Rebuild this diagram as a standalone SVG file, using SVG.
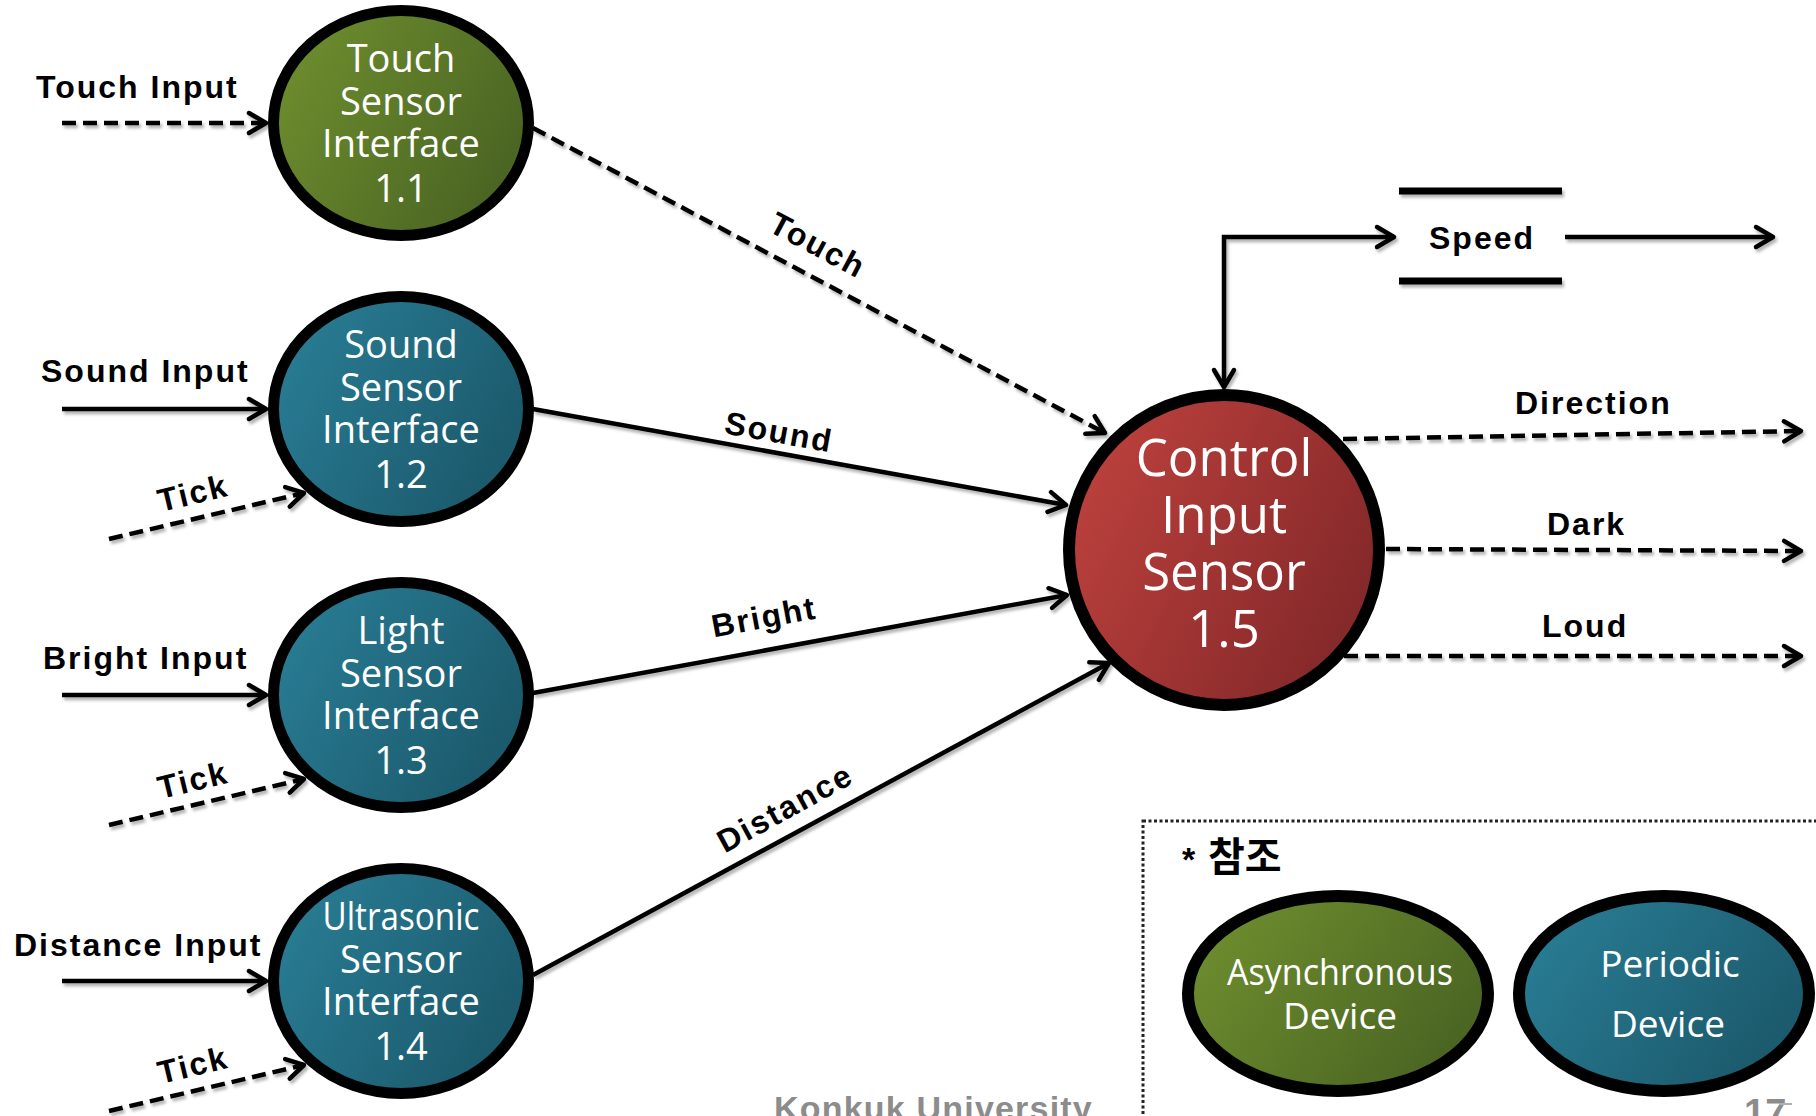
<svg xmlns="http://www.w3.org/2000/svg" width="1816" height="1116" viewBox="0 0 1816 1116">
  <defs>
    <linearGradient id="gGreen" x1="0" y1="0" x2="1" y2="0.5">
      <stop offset="0" stop-color="#72922f"/>
      <stop offset="1" stop-color="#4b6623"/>
    </linearGradient>
    <linearGradient id="gBlue" x1="0" y1="0" x2="1" y2="0.5">
      <stop offset="0" stop-color="#2a8199"/>
      <stop offset="1" stop-color="#1c5a6d"/>
    </linearGradient>
    <linearGradient id="gRed" x1="0" y1="0" x2="1" y2="0.5">
      <stop offset="0" stop-color="#c3443f"/>
      <stop offset="1" stop-color="#86292a"/>
    </linearGradient>
    <!-- user-space region so that perfectly horizontal lines keep their shadow -->
    <filter id="shadow" filterUnits="userSpaceOnUse" x="0" y="0" width="1816" height="1116">
      <feDropShadow dx="2" dy="3" stdDeviation="1.8" flood-color="#000" flood-opacity="0.3"/>
    </filter>
    <marker id="arrow" markerUnits="userSpaceOnUse" viewBox="-22 -14 26 28" refX="0" refY="0" markerWidth="26" markerHeight="28" orient="auto-start-reverse">
      <path d="M-17,-10 L0,0 L-17,10" fill="none" stroke="#000" stroke-width="4.5" stroke-linecap="round" stroke-linejoin="round" stroke-dasharray="none"/>
    </marker>
    <style>
      .flow { fill: none; stroke: #000; stroke-width: 4.5; marker-end: url(#arrow); filter: url(#shadow); }
      .dash { stroke-dasharray: 14 7; }
      .ring { stroke: #000; stroke-width: 11; }
      .lbl { font-family: "Liberation Sans", Arial, sans-serif; font-weight: bold; font-size: 32px; letter-spacing: 2px; fill: #000; }
      .ntext { font-family: "Open Sans", "Noto Sans", sans-serif; font-size: 38px; fill: #fff; text-anchor: middle; }
      .big { font-size: 51px; }
      .leg { font-size: 37px; }
      .foot { font-family: "Liberation Sans", Arial, sans-serif; font-weight: bold; fill: #8c8c8c; }
    </style>
  </defs>

  <rect width="1816" height="1116" fill="#fff"/>

  <!-- connectors -->
  <g id="connectors">
    <!-- external inputs -->
    <path class="flow dash" d="M62,123 H266"/>
    <path class="flow" d="M62,409 H266"/>
    <path class="flow" d="M62,695 H266"/>
    <path class="flow" d="M62,981 H266"/>
    <!-- tick inputs -->
    <path class="flow dash" d="M109,539 L304,493"/>
    <path class="flow dash" d="M109,825 L304,779"/>
    <path class="flow dash" d="M109,1111 L304,1065"/>
    <!-- sensor interfaces to control -->
    <path class="flow dash" d="M533,128 L1105,433"/>
    <path class="flow" d="M533,409 L1066,505"/>
    <path class="flow" d="M533,693 L1067,595"/>
    <path class="flow" d="M533,975 L1109,663"/>
    <!-- speed store loop -->
    <path class="flow" style="marker-start:url(#arrow)" d="M1394,237 H1224 V387"/>
    <path class="flow" d="M1565,237 H1773"/>
    <!-- outputs -->
    <path class="flow dash" d="M1343,439 L1801,431"/>
    <path class="flow dash" d="M1386,549 L1801,551"/>
    <path class="flow dash" d="M1344,656 L1801,656"/>

    <!-- flow labels -->
    <text class="lbl" x="36" y="98">Touch Input</text>
    <text class="lbl" x="41" y="382">Sound Input</text>
    <text class="lbl" x="43" y="669">Bright Input</text>
    <text class="lbl" x="14" y="956">Distance Input</text>
    <text class="lbl" text-anchor="middle" transform="translate(193,493) rotate(-13.5)" y="11">Tick</text>
    <text class="lbl" text-anchor="middle" transform="translate(193,780) rotate(-13.5)" y="11">Tick</text>
    <text class="lbl" text-anchor="middle" transform="translate(193,1065) rotate(-13.5)" y="11">Tick</text>
    <text class="lbl" text-anchor="middle" transform="translate(818,245) rotate(28)" y="11">Touch</text>
    <text class="lbl" text-anchor="middle" transform="translate(779,432) rotate(10.2)" y="11">Sound</text>
    <text class="lbl" text-anchor="middle" transform="translate(764,617) rotate(-10.5)" y="11">Bright</text>
    <text class="lbl" text-anchor="middle" transform="translate(785,808) rotate(-28.6)" y="11">Distance</text>
    <text class="lbl" x="1515" y="414">Direction</text>
    <text class="lbl" x="1547" y="535">Dark</text>
    <text class="lbl" x="1542" y="637">Loud</text>
  </g>

  <!-- data store: Speed -->
  <g id="store-speed">
    <line x1="1399" y1="191" x2="1562" y2="191" stroke="#000" stroke-width="7" filter="url(#shadow)"/>
    <line x1="1399" y1="281" x2="1562" y2="281" stroke="#000" stroke-width="7" filter="url(#shadow)"/>
    <text class="lbl" x="1429" y="249">Speed</text>
  </g>

  <!-- processes -->
  <g id="node-1-1">
    <ellipse class="ring" cx="401" cy="123" rx="127.5" ry="112.5" fill="url(#gGreen)"/>
    <text class="ntext" x="401" y="72">Touch</text>
    <text class="ntext" x="401" y="115">Sensor</text>
    <text class="ntext" x="401" y="157">Interface</text>
    <text class="ntext" x="401" y="202">1.1</text>
  </g>
  <g id="node-1-2">
    <ellipse class="ring" cx="401" cy="409" rx="127.5" ry="112.5" fill="url(#gBlue)"/>
    <text class="ntext" x="401" y="358">Sound</text>
    <text class="ntext" x="401" y="401">Sensor</text>
    <text class="ntext" x="401" y="443">Interface</text>
    <text class="ntext" x="401" y="488">1.2</text>
  </g>
  <g id="node-1-3">
    <ellipse class="ring" cx="401" cy="695" rx="127.5" ry="112.5" fill="url(#gBlue)"/>
    <text class="ntext" x="401" y="644">Light</text>
    <text class="ntext" x="401" y="687">Sensor</text>
    <text class="ntext" x="401" y="729">Interface</text>
    <text class="ntext" x="401" y="774">1.3</text>
  </g>
  <g id="node-1-4">
    <ellipse class="ring" cx="401" cy="981" rx="127.5" ry="112.5" fill="url(#gBlue)"/>
    <text class="ntext" x="401" y="930" textLength="157" lengthAdjust="spacingAndGlyphs">Ultrasonic</text>
    <text class="ntext" x="401" y="973">Sensor</text>
    <text class="ntext" x="401" y="1015">Interface</text>
    <text class="ntext" x="401" y="1060">1.4</text>
  </g>
  <g id="node-1-5">
    <ellipse cx="1224" cy="550" rx="155" ry="155" fill="url(#gRed)" stroke="#000" stroke-width="12"/>
    <text class="ntext big" x="1224" y="476">Control</text>
    <text class="ntext big" x="1224" y="533">Input</text>
    <text class="ntext big" x="1224" y="590">Sensor</text>
    <text class="ntext big" x="1224" y="647">1.5</text>
  </g>

  <!-- legend -->
  <g id="legend">
    <rect x="1143" y="821" width="720" height="400" fill="none" stroke="#222" stroke-width="3" stroke-dasharray="3 2.5"/>
    <text y="871" font-weight="bold" fill="#000"><tspan x="1182" font-family="'Liberation Sans', sans-serif" font-size="34">*</tspan><tspan x="1208" font-family="'Noto Sans CJK KR', sans-serif" font-size="40">참조</tspan></text>
    <g id="legend-async">
      <ellipse cx="1338" cy="993.5" rx="150" ry="97.5" fill="url(#gGreen)" stroke="#000" stroke-width="12"/>
      <text class="ntext leg" x="1340" y="985" textLength="226" lengthAdjust="spacingAndGlyphs">Asynchronous</text>
      <text class="ntext leg" x="1340" y="1029">Device</text>
    </g>
    <g id="legend-periodic">
      <ellipse cx="1664" cy="993.5" rx="145" ry="97.5" fill="url(#gBlue)" stroke="#000" stroke-width="12"/>
      <text class="ntext leg" x="1670" y="977">Periodic</text>
      <text class="ntext leg" x="1668" y="1037">Device</text>
    </g>
  </g>

  <!-- footer -->
  <text class="foot" x="774" y="1120" font-size="34" letter-spacing="1.2">Konkuk University</text>
  <text class="foot" x="1744" y="1126" font-size="38">17</text>
  <line x1="1779" y1="1104" x2="1792" y2="1104" stroke="#b0b0b0" stroke-width="2"/>
</svg>
